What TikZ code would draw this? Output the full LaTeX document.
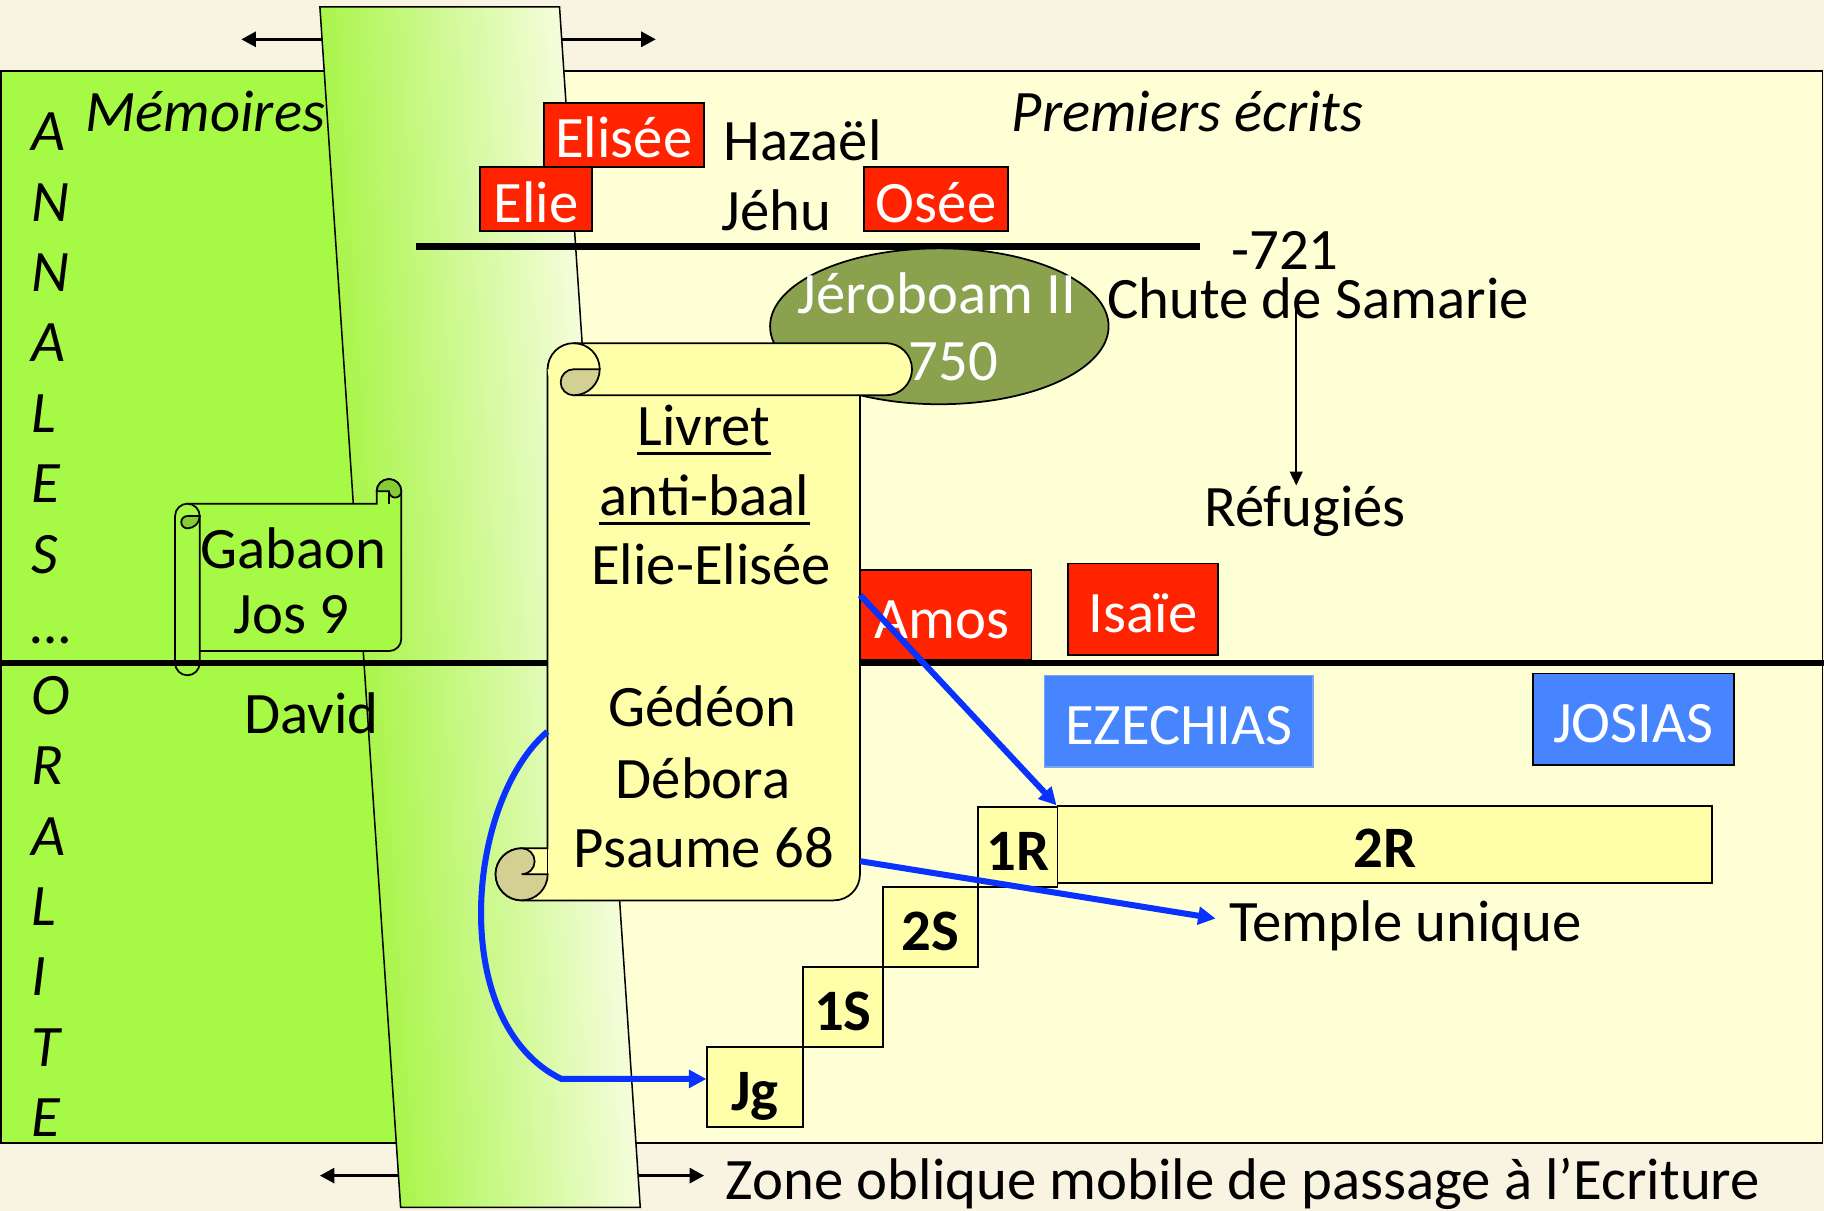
\documentclass[tikz,border=0pt]{standalone}
\usepackage{fontspec}
\setmainfont{Carlito}
\usetikzlibrary{arrows.meta,shapes.geometric}
\definecolor{bgc}{HTML}{F9F4E1}
\definecolor{greenp}{HTML}{A6F944}
\definecolor{yelp}{HTML}{FFFFD6}
\definecolor{scrollc}{HTML}{FFFFAA}
\definecolor{curlc}{HTML}{D4D094}
\definecolor{gcurl}{HTML}{86CC35}
\definecolor{redc}{HTML}{FF2300}
\definecolor{bluec}{HTML}{4785FF}
\definecolor{blueedge}{HTML}{7BA4F2}
\definecolor{olivec}{HTML}{8AA14D}
\definecolor{arrowblue}{HTML}{0A32FF}
\definecolor{bandl}{HTML}{AAF54C}
\definecolor{bandr}{HTML}{F5FDDB}
\newcommand{\diagfont}{\fontsize{50.5}{60}\selectfont}
\begin{document}
\begin{tikzpicture}[x=1pt,y=-1pt,
  txt/.style={font=\diagfont, inner sep=0pt, anchor=base},
  itxt/.style={font=\diagfont\itshape, inner sep=0pt, anchor=base},
  vlet/.style={font=\diagfont\itshape, inner sep=0pt, anchor=base west},
  boxbase/.style={draw=black, line width=1.5pt, inner sep=0pt, text height=40pt, text depth=0pt, font=\diagfont},
  redbox/.style={boxbase, fill=redc, text=white},
  bluebox/.style={boxbase, fill=bluec, text=white},
  book/.style={boxbase, fill=scrollc, font=\diagfont\bfseries},
  outl/.style={draw=black, line width=1.5pt},
  thickrule/.style={draw=black, line width=5.5pt},
  blackarrow/.style={draw=black, line width=2.2pt, -{Triangle[length=12.5pt,width=13pt]}},
  thinarrow/.style={draw=black, line width=1.6pt, -{Triangle[length=12pt,width=11pt]}},
  bluearrow/.style={draw=arrowblue, line width=5.2pt, -{Triangle[length=15pt,width=15pt]}},
]
% background and bounding box
\fill[bgc] (0,0) rectangle (1568,1041);
\useasboundingbox (0,0) rectangle (1568,1041);

% panels
\draw[outl, fill=greenp] (0.75,61) rectangle (410,982.5);
\draw[outl, fill=yelp] (410,61) rectangle (1566.6,982.5);

% oblique band
\begin{scope}[transform canvas={cm={1,0,-0.06686,1,(0,0)}}]
  \shade[left color=bandl, right color=bandr] (275,6) rectangle (481,1038);
\end{scope}
\coordinate (btl) at (275,6);
\coordinate (btr) at (481,6);
\coordinate (bbr) at (550.4,1038);
\coordinate (bbl) at (344.4,1038);
\draw[outl, line width=1.3pt] (btl) -- (btr) -- (bbr) -- (bbl) -- cycle;

% band arrows
\coordinate (tal) at (276.9,33.8);
\coordinate (talt) at (207.5,33.8);
\coordinate (tar) at (482.9,33.8);
\coordinate (tart) at (563.7,33.8);
\coordinate (bal) at (342.2,1010.6);
\coordinate (balt) at (275,1010.6);
\coordinate (bar) at (548.2,1010.6);
\coordinate (bart) at (605.3,1010.6);
\draw[blackarrow] (tal) -- (talt);
\draw[blackarrow] (tar) -- (tart);
\draw[blackarrow] (bal) -- (balt);
\draw[blackarrow] (bar) -- (bart);

% upper rule
\coordinate (ur1) at (357.6,212);
\coordinate (ur2) at (1031.8,212);
\draw[thickrule] (ur1) -- (ur2);

% titles
\node[itxt] (mem) at (176.5,113.2) {Mémoires};
\node[itxt] (prem) at (1020.8,113.2) {Premiers écrits};

% red boxes top
\node[redbox, minimum width=137.4pt, minimum height=55pt] (elisee) at (536.3,115.8) {Elisée};
\node[redbox, minimum width=96.3pt, minimum height=55.3pt] (elie) at (460.85,171) {Elie};
\node[redbox, minimum width=123.9pt, minimum height=55.3pt] (osee) at (804.75,171) {Osée};
\node[txt] (haz) at (690,137.6) {Hazaël};
\node[txt] (jehu) at (667.7,197.8) {Jéhu};
\node[txt] (d721) at (1104.6,231.6) {-721};
\node[txt] (chute) at (1133.1,273.7) {Chute de Samarie};

% Gabaon scroll (horizontal scroll)
\draw[outl, fill=greenp] (161.1,433) -- (323.8,433) -- (323.8,422.4)
   arc[start angle=180,end angle=360,radius=10.6] -- (345,549.1)
   arc[start angle=0,end angle=90,radius=10.6] -- (161.1,559.7) -- cycle;
\draw[outl, fill=gcurl] (323.8,422.4) arc[start angle=180,end angle=360,radius=10.6]
   arc[start angle=0,end angle=180,radius=5.3] -- cycle;
\draw[outl] (334.4,422.4) -- (334.4,433);
\draw[outl, fill=greenp] (150.5,443.6) -- (150.5,569.9)
   arc[start angle=180,end angle=0,radius=10.6] -- (171.7,443.6)
   arc[start angle=0,end angle=-180,radius=10.6] -- cycle;
\draw[outl, fill=gcurl] (161.1,443.6) -- (171.7,443.6) arc[start angle=0,end angle=90,radius=10.6]
   arc[start angle=90,end angle=270,radius=5.3] -- cycle;
\node[txt] (gab) at (252.2,488.7) {Gabaon};
\node[txt] (jos) at (250.8,544.6) {Jos 9};

\node[txt] (david) at (267.7,630.5) {David};

% middle rule
\coordinate (mr1) at (0,570);
\coordinate (mr2) at (1568,570);
\draw[thickrule] (mr1) -- (mr2);

% ellipse
\node[ellipse, draw=black, line width=1.5pt, fill=olivec, minimum width=291pt, minimum height=134pt, inner sep=0pt] (jer) at (807.5,280.5) {};
\node[txt, text=white] (jer1) at (805.4,269.4) {Jéroboam II};
\node[txt, text=white] (jer2) at (819.6,326.7) {750};

% Amos (partly under the scroll)
\node[redbox, minimum width=153.7pt, minimum height=77pt] (amos) at (809.85,528.5) {Amos};

% big vertical scroll
\draw[outl, fill=scrollc] (470.75,317.4) -- (470.75,729.2) -- (448.4,729.2)
   arc[start angle=-90,end angle=-270,radius=22.4] -- (716.85,774)
   arc[start angle=90,end angle=0,radius=22.4] -- (739.25,317.4) -- cycle;
\draw[outl] (470.75,729.2) -- (470.75,751.6);
\draw[outl, fill=curlc] (448.4,751.6) -- (470.8,751.6)
   arc[start angle=0,end angle=270,radius=22.4]
   arc[start angle=-90,end angle=90,radius=11.2] -- cycle;
\fill[scrollc] (493.15,295) -- (761.6,295) arc[start angle=-90,end angle=90,radius=22.4]
   -- (493.15,339.8) arc[start angle=90,end angle=270,radius=22.4] -- cycle;
\draw[outl] (470.75,317.4) arc[start angle=180,end angle=270,radius=22.4] -- (761.6,295)
   arc[start angle=-90,end angle=90,radius=22.4] -- (493.15,339.8);
\draw[outl, fill=curlc] (493.15,317.4) -- (515.55,317.4)
   arc[start angle=0,end angle=90,radius=22.4]
   arc[start angle=90,end angle=270,radius=11.2] -- cycle;
\draw[outl] (493.15,295) arc[start angle=-90,end angle=0,radius=22.4];

\node[txt] (liv) at (605.2,382.6) {Livret};
\node[txt] (anti) at (605.6,442.8) {anti-baal};
\draw[line width=2.3pt] ([yshift=-7.2pt]liv.base west) -- ([yshift=-7.2pt]liv.base east);
\draw[line width=2.3pt] ([yshift=-7.2pt]anti.base west) -- ([yshift=-7.2pt]anti.base east);
\node[txt] (ee) at (611.4,502.4) {Elie-Elisée};
\node[txt] (ged) at (604,624.8) {Gédéon};
\node[txt] (deb) at (604.4,686.4) {Débora};
\node[txt] (ps) at (605,745.5) {Psaume 68};

% other boxes
\node[redbox, minimum width=128.5pt, minimum height=78.8pt] (isaie) at (982.55,523.8) {Isaïe};
\node[bluebox, draw=blueedge, minimum width=231pt, minimum height=78.5pt] (ezek) at (1013.5,620) {EZECHIAS};
\node[bluebox, minimum width=172.6pt, minimum height=78.8pt] (josias) at (1404.1,618.4) {JOSIAS};

% books
\node[book, minimum width=563pt, minimum height=66pt] (r2) at (1190.5,726) {2R};
\node[book, minimum width=68pt, minimum height=69pt] (r1) at (875,728.2) {1R};
\node[book, minimum width=82pt, minimum height=68.3pt] (s2) at (800,796.9) {2S};
\node[book, minimum width=69pt, minimum height=69pt] (s1) at (724.5,865.5) {1S};
\node[book, minimum width=82pt, minimum height=69pt] (jg) at (649,934.5) {Jg};

% texts
\node[txt] (ref) at (1121.9,452.3) {Réfugiés};
\node[txt] (tu) at (1208.2,809) {Temple unique};
\node[txt] (zone) at (1068.5,1031.2) {Zone oblique mobile de passage à l’Ecriture};

% vertical letters
\foreach \L [count=\i from 0] in {A,N,N,A,L,E,S,…,O,R,A,L,I,T,E}
  \node[vlet] (v\i) at (27,{129.5+60.55*\i}) {\L};

% connectors
\coordinate (rf1) at (1114.3,266.6);
\draw[thinarrow] (rf1) -- (rf1 |- ref.north);

\coordinate (sa) at (739.4,511.6);
\draw[bluearrow] (sa) -- (r2.north west);
\coordinate (sb) at (739.4,740.3);
\coordinate (tuin) at (1045,789.6);
\draw[bluearrow] (sb) -- (tuin);
\coordinate (sc) at (470.5,629);
\coordinate (cc) at (482.6,927.5);
\coordinate (jgin) at ([yshift=7pt]jg.west);
\draw[bluearrow] (sc) .. controls (400,690) and (385,880) .. (cc) -- (jgin);
\end{tikzpicture}
\end{document}
